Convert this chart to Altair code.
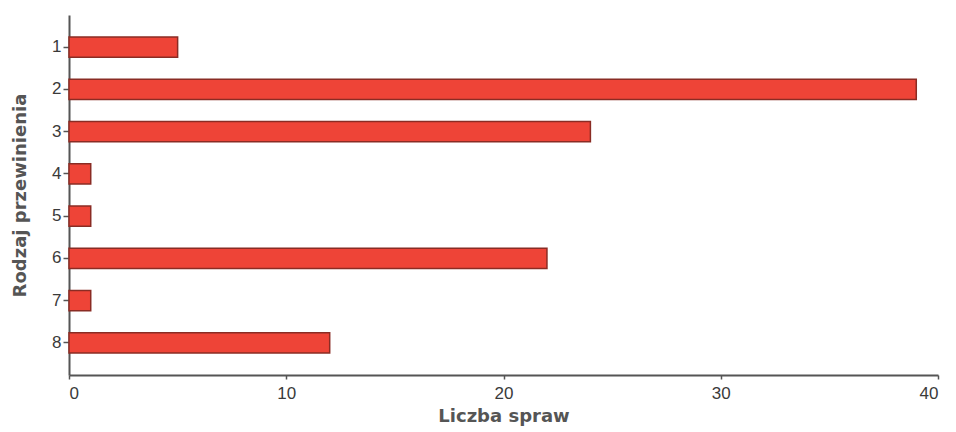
import altair as alt
import pandas as pd

categories = ["1", "2", "3", "4", "5", "6", "7", "8"]
values = [5, 39, 24, 1, 1, 22, 1, 12]

df = pd.DataFrame({"Rodzaj przewinienia": categories, "Liczba spraw": values})

chart = alt.Chart(df).mark_bar(
    color="#ee4437", stroke="#8a2c24", strokeWidth=1.5
).encode(
    y=alt.Y("Rodzaj przewinienia:N", sort=categories,
            scale=alt.Scale(paddingInner=0.52, paddingOuter=0.52),
            axis=alt.Axis(title="Rodzaj przewinienia", labelAngle=0, tickSize=6,
                          labelPadding=2, titlePadding=22)),
    x=alt.X("Liczba spraw:Q", scale=alt.Scale(domain=[0, 40], nice=False),
            axis=alt.Axis(values=[0, 10, 20, 30, 40], title="Liczba spraw",
                          tickSize=4, labelPadding=6, titlePadding=6, grid=False)),
).properties(
    width=869, height=360, padding={"left": 3, "top": 7, "right": 8, "bottom": 3}
).configure_view(stroke=None).configure_axis(
    domainColor="#555555", domainWidth=2, tickColor="#555555", tickWidth=1.5,
    labelFont="Liberation Sans", labelFontSize=17, labelColor="#3a3a3a",
    titleFont="DejaVu Sans", titleFontSize=18, titleFontWeight="bold",
    titleColor="#555555", grid=False
)

chart.save("out.html", embed_options={"renderer": "svg", "actions": False})
